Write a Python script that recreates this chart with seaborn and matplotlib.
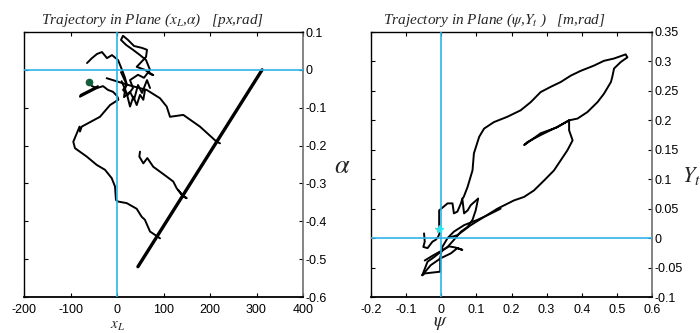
import pandas as pd
import matplotlib
matplotlib.use("Agg")
import matplotlib.pyplot as plt
from matplotlib.ticker import FuncFormatter
import seaborn as sns

sns.set_theme(style="ticks")
plt.rcParams['font.family'] = ['Liberation Sans', 'DejaVu Sans']
plt.rcParams['mathtext.fontset'] = 'stix'
plt.rcParams['axes.unicode_minus'] = False

# ---- left plane: (x_L [px], alpha [rad]) ----
diag_x = [312, 45]
diag_y = [0.0, -0.52]

lower_x = [-60.2, -53.8, -43, -30.1, -19.4, -8.6, 0, 2.2, 2.8, -15, -36.6, -75.9, -79.6,
           -80.5, -94, -90.3, -65.2, -43.7, -25.8, -11.4, -4.3, -2.2, 2.8, 20.9, 42.4,
           53, 60, 71, 92.5]
lower_y = [-0.032, -0.043, -0.048, -0.043, -0.053, -0.058, -0.069, -0.075, -0.079, -0.093,
           -0.124, -0.150, -0.163, -0.150, -0.190, -0.207, -0.229, -0.251, -0.264, -0.286,
           -0.308, -0.344, -0.348, -0.352, -0.367, -0.388, -0.396, -0.427, -0.445]

arm_x = [-43, -79.6, -78, -41]
arm_y = [-0.048, -0.071, -0.066, -0.043]

upper_x = [-64.5, -53.8, -43, -32.3, -21.5, -10.8, 2.2, 10.8, 17.2, 21.5, 12.9, 23.7, 34.4,
           28, 45.2, 58, 71, 62.4, 49.5, 34.4, 19.4, 8.6, 12.9, 23.7, 36.6, 53.8, 64.5,
           62.4, 42.4, 60, 78, 70]
upper_y = [0.018, 0.031, 0.042, 0.047, 0.031, 0.039, 0.026, 0.0, -0.021, -0.040, -0.053,
           -0.066, -0.048, -0.027, -0.013, -0.021, 0.0, 0.026, 0.039, 0.053, 0.066, 0.079,
           0.090, 0.079, 0.063, 0.058, 0.053, 0.034, 0.008, 0.0, -0.014, -0.010]

jag_x = [8.6, 19.4, 15.1, 28, 36.6, 45.2, 53.8, 64.5, 71]
jag_y = [-0.006, -0.035, -0.072, -0.058, -0.079, -0.040, -0.061, -0.027, -0.048]

blob_x = [10, 20.9, 28, 35.1, 42.4, 49.5, 56.6, 60.2]
blob_y = [-0.030, -0.062, -0.097, -0.071, -0.093, -0.066, -0.079, -0.053]

cross_x = [-22.2, 30, 63.9, 92.5, 106.9, 114, 142.6, 178.5, 214.4, 221.5]
cross_y = [-0.022, -0.042, -0.053, -0.075, -0.097, -0.124, -0.119, -0.150, -0.190, -0.194]

mid_x = [49.5, 48, 56.6, 65.2, 78, 92.5, 106.9, 121, 128.4, 142.6, 150, 140, 132]
mid_y = [-0.216, -0.229, -0.247, -0.233, -0.256, -0.269, -0.282, -0.295, -0.313, -0.335,
         -0.339, -0.330, -0.318]

start_left = (-60.2, -0.032)

# ---- right plane: (psi, Y_t) ----
outer_x = [0.060, 0.064, 0.075, 0.089, 0.093, 0.108, 0.122, 0.150, 0.188, 0.226, 0.255,
           0.283, 0.312, 0.340, 0.369, 0.397, 0.435, 0.463, 0.492, 0.525, 0.530, 0.511,
           0.492, 0.487, 0.483, 0.463, 0.445, 0.416, 0.388, 0.364, 0.331, 0.283, 0.245,
           0.236, 0.255, 0.283, 0.329, 0.364, 0.364, 0.374, 0.359, 0.340, 0.321, 0.293,
           0.264, 0.236, 0.207, 0.160, 0.122, 0.084, 0.046, 0.018]
outer_y = [0.067, 0.070, 0.087, 0.115, 0.144, 0.172, 0.186, 0.197, 0.206, 0.217, 0.231,
           0.248, 0.257, 0.265, 0.276, 0.284, 0.293, 0.301, 0.305, 0.312, 0.307, 0.299,
           0.288, 0.274, 0.265, 0.245, 0.231, 0.214, 0.203, 0.200, 0.189, 0.175, 0.163,
           0.158, 0.166, 0.178, 0.188, 0.200, 0.183, 0.166, 0.149, 0.132, 0.115, 0.098,
           0.081, 0.070, 0.064, 0.050, 0.036, 0.022, 0.005, 0.000]

box_x = [-0.006, -0.006, 0.018, 0.032, 0.036, 0.046, 0.056, 0.060, 0.065, 0.075, 0.084, 0.105]
box_y = [0.014, 0.047, 0.059, 0.059, 0.042, 0.045, 0.059, 0.067, 0.042, 0.047, 0.056, 0.067]

down_x = [0.105, 0.098, 0.089, 0.075, 0.056, 0.036, 0.018, -0.001, -0.020, -0.039, -0.054]
down_y = [0.067, 0.047, 0.031, 0.019, 0.011, -0.003, -0.015, -0.023, -0.032, -0.040, -0.063]

zig_x = [-0.054, -0.030, -0.001, 0.027, 0.046, 0.060, 0.041, 0.022, -0.001, -0.025, -0.047]
zig_y = [-0.063, -0.046, -0.034, -0.026, -0.017, -0.020, -0.016, -0.014, -0.022, -0.030, -0.038]

spike_x = [-0.049, -0.047, -0.051, -0.039, -0.025, -0.016, -0.009, -0.003]
spike_y = [0.008, -0.006, -0.015, -0.017, -0.006, -0.003, 0.002, 0.011]

base_x = [-0.054, -0.047, -0.003, -0.003, 0.003, 0.018, 0.036, 0.065, 0.103, 0.132, 0.169]
base_y = [-0.063, -0.060, -0.057, -0.034, -0.015, 0.000, 0.011, 0.022, 0.031, 0.039, 0.050]

start_right = (-0.006, 0.016)


def path_frame(segments):
    rows = []
    for name, (xs, ys) in segments.items():
        for i, (x, y) in enumerate(zip(xs, ys)):
            rows.append((name, i, x, y))
    return pd.DataFrame(rows, columns=['seg', 'step', 'x', 'y'])


left_df = path_frame({'lower': (lower_x, lower_y), 'arm': (arm_x, arm_y),
                      'upper': (upper_x, upper_y), 'jag': (jag_x, jag_y),
                      'blob': (blob_x, blob_y), 'cross': (cross_x, cross_y),
                      'mid': (mid_x, mid_y)})
diag_df = path_frame({'diag': (diag_x, diag_y)})
right_df = path_frame({'outer': (outer_x, outer_y), 'box': (box_x, box_y),
                       'down': (down_x, down_y), 'zig': (zig_x, zig_y),
                       'spike': (spike_x, spike_y), 'base': (base_x, base_y)})

ref_blue = '#2fb4ea'
serif = ['Liberation Serif', 'DejaVu Serif']
fmt = FuncFormatter(lambda v, p: f"{round(v, 6):g}")

fig = plt.figure(figsize=(7, 3.33), dpi=100)
ax1 = fig.add_axes([24 / 700, 36 / 333, 279 / 700, 265 / 333])
ax2 = fig.add_axes([371 / 700, 36 / 333, 281 / 700, 265 / 333])

sns.lineplot(data=left_df, x='x', y='y', units='seg', estimator=None, sort=False,
             color='black', lw=1.4, ax=ax1, legend=False)
sns.lineplot(data=diag_df, x='x', y='y', units='seg', estimator=None, sort=False,
             color='black', lw=2.4, ax=ax1, legend=False)
ax1.plot(*start_left, marker='o', ms=4.5, color='#145c3a', zorder=5)

sns.lineplot(data=right_df, x='x', y='y', units='seg', estimator=None, sort=False,
             color='black', lw=1.4, ax=ax2, legend=False)
ax2.plot(*start_right, marker='*', ms=6, color='#2ee6f0', zorder=5)

for ax in (ax1, ax2):
    ax.axhline(0, color=ref_blue, lw=1.2, zorder=4)
    ax.axvline(0, color=ref_blue, lw=1.2, zorder=4)
    ax.tick_params(direction='in', length=3, width=0.8, top=True, right=True, left=True,
                   bottom=True, labelleft=False, labelright=True, labelsize=9,
                   colors='black', pad=2)
    ax.tick_params(axis='x', pad=5)
    ax.xaxis.set_major_formatter(fmt)
    ax.yaxis.set_major_formatter(fmt)
    for side in ('top', 'left'):
        ax.spines[side].set_color('black')
        ax.spines[side].set_linewidth(1.0)
    ax.spines['bottom'].set_color('black')
    ax.spines['bottom'].set_linewidth(1.3)
    ax.spines['right'].set_color('#707070')
    ax.spines['right'].set_linewidth(1.2)
    ax.set_xlabel('')
    ax.set_ylabel('')

ax1.set_xlim(-200, 400)
ax1.set_ylim(-0.6, 0.1)
ax1.set_xticks([-200, -100, 0, 100, 200, 300, 400])
ax1.set_yticks([0.1, 0, -0.1, -0.2, -0.3, -0.4, -0.5, -0.6])

ax2.set_xlim(-0.2, 0.6)
ax2.set_ylim(-0.1, 0.35)
ax2.set_xticks([-0.2, -0.1, 0, 0.1, 0.2, 0.3, 0.4, 0.5, 0.6])
ax2.set_yticks([0.35, 0.3, 0.25, 0.2, 0.15, 0.1, 0.05, 0, -0.05, -0.1])

ax1.set_title(r"Trajectory in Plane ($x_L$,$\alpha$)   [px,rad]", family=serif,
              style='italic', fontsize=11, pad=6, x=0.46)
ax2.set_title(r"Trajectory in Plane ($\psi$,$Y_t$ )   [m,rad]", family=serif,
              style='italic', fontsize=11, pad=6, x=0.44)

ax1.text(0.335, -0.11, r"$x_L$", transform=ax1.transAxes, ha='center', va='center',
         fontsize=11)
ax1.text(1.14, 0.494, r"$\alpha$", transform=ax1.transAxes, ha='center', va='center',
         fontsize=19)
ax2.text(0.246, -0.1, r"$\psi$", transform=ax2.transAxes, ha='center', va='center',
         fontsize=14)
ax2.text(1.14, 0.457, r"$Y_t$", transform=ax2.transAxes, ha='center', va='center',
         fontsize=16)

fig.savefig('out.png', dpi=100)
